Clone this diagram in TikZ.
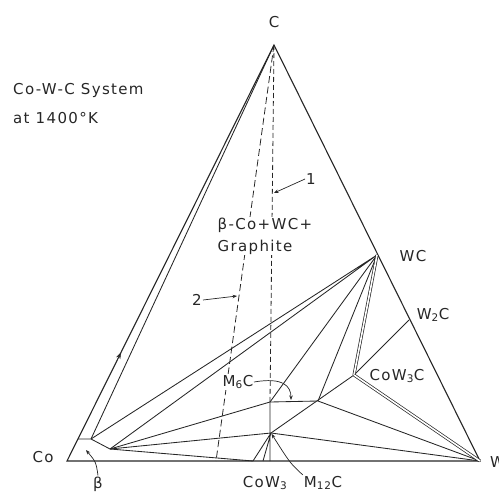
\documentclass[tikz,border=0pt]{standalone}
\usepackage{fontspec}
\setmainfont{DejaVu Sans}
\newfontfamily\lettering[LetterSpace=9]{DejaVu Sans}
\usetikzlibrary{arrows.meta,calc}

\begin{document}
\begin{tikzpicture}[
    x=1pt, y=-1pt,
    font=\lettering\fontsize{15}{22}\selectfont,
    side/.style={draw=ink, line width=1.1pt},
    tie/.style={draw=ink, line width=0.85pt},
    pairline/.style={draw=ink, line width=0.7pt, double, double distance=1.6pt},
    trace/.style={draw=ink, line width=0.8pt, dash pattern=on 7pt off 3.5pt},
    leader/.style={draw=ink, line width=0.7pt, -{Stealth[length=4.5pt,width=3.5pt]}},
    lbl/.style={text=ink, inner sep=1pt}
]

    \definecolor{ink}{HTML}{262626}

    \useasboundingbox (0,0) rectangle (499,493);
    \clip (0,0) rectangle (499,493);

    % corners and invariant points
    \coordinate (Co) at (67,461);
    \coordinate (W) at (480,461);
    \coordinate (C) at (274,45);
    \coordinate (WC) at (377,255);
    \coordinate (W2C) at (409,320);
    \coordinate (eta) at (354,375);
    \coordinate (bL) at (78,439);
    \coordinate (bR) at (91,439);
    \coordinate (bP) at (110,449);
    \coordinate (m6L) at (270,402);
    \coordinate (m6R) at (318,401);
    \coordinate (m12) at (271,433);
    \coordinate (a1) at (253,461);
    \coordinate (a2) at (263,461);
    \coordinate (a3) at (270,461);
    \coordinate (d2) at (216,461);

    % triangle
    \draw[side] (Co) -- (C) -- (W) -- cycle;
    \draw[tie] (bR) -- (C);
    \draw[-{Stealth[length=7pt,width=4.5pt]}, ink] ($(Co)!0.24!(C)$) -- ($(Co)!0.262!(C)$);

    % beta corner
    \draw[tie] (bL) -- (bR) -- (bP);
    \draw[tie] (bR) -- (WC) (bP) -- (WC);
    \draw[tie] (bP) -- (m6L) -- (m6R) -- (W);
    \draw[tie] (bP) -- (m12) -- (W);
    \draw[tie] (bP) -- (a1);

    % tie lines
    \draw[tie] (m12) -- (a1) (m12) -- (a2) (m6L) -- (a3);
    \draw[tie] (WC) -- (m6L) (WC) -- (m6R);
    \draw[tie] (m12) -- (eta) -- (W2C);
    \draw[pairline] (WC) -- (eta);
    \draw[pairline] (eta) -- (W);

    % sections 1 and 2
    \draw[trace, dash pattern=on 5pt off 3pt] (C) -- (m6L);
    \draw[trace] (C) -- (d2);

    % labels
    \node[lbl] (cLbl) at (274,22) {C};
    \node[lbl, anchor=west] (sysLbl) at (12,90) {Co-W-C System};
    \node[lbl, anchor=west] (tempLbl) at (12,118) {at 1400°K};
    \node[lbl, anchor=west, align=left, fill=white, inner sep=0.5pt] (fieldLbl) at (217,236) {β-Co+WC+\\Graphite};
    \node[lbl] (wcLbl) at (413,256) {WC};
    \node[lbl] (w2cLbl) at (433,315) {W\textsubscript{2}C};
    \node[lbl] (etaLbl) at (397,376) {CoW\textsubscript{3}C};
    \node[lbl, fill=white, inner sep=0.5pt] (m6Lbl) at (238,382) {M\textsubscript{6}C};
    \node[lbl] (coLbl) at (43,457) {Co};
    \node[lbl, anchor=west] (wLbl) at (489,462) {W};
    \node[lbl] (betaLbl) at (98,484) {β};
    \node[lbl] (cowLbl) at (265,483) {CoW\textsubscript{3}};
    \node[lbl] (m12Lbl) at (323,483) {M\textsubscript{12}C};
    \node[lbl] (oneLbl) at (311,179) {1};
    \node[lbl] (twoLbl) at (197,300) {2};

    % leaders
    \coordinate (t1) at (274,193);
    \coordinate (t2) at (237,296);
    \coordinate (t6) at (291,400);
    \coordinate (tb) at (86,450);
    \draw[leader] (oneLbl.west) -- (t1);
    \draw[leader] (twoLbl.east) -- (t2);
    \draw[leader] (m6Lbl.east) .. controls (283,377) and (291,386) .. (t6);
    \draw[leader, shorten >=1pt] (m12Lbl.north west) .. controls (290,463) .. (m12);
    \draw[leader] (betaLbl.north) .. controls (96,462) .. (tb);

\end{tikzpicture}
\end{document}
